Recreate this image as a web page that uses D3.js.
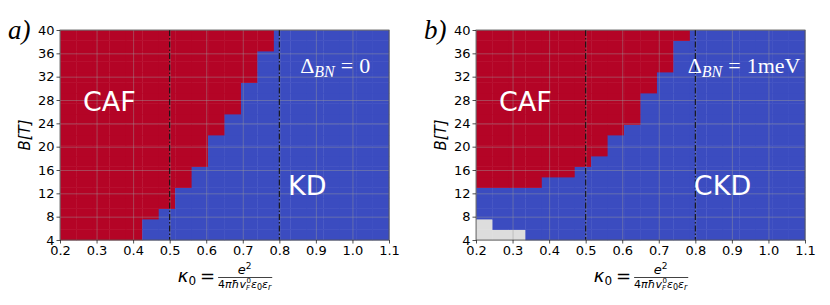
<!DOCTYPE html>
<html>
<head>
<meta charset="utf-8">
<style>
body { margin: 0; background: #fff; }
text { font-family: "DejaVu Sans", sans-serif; }
</style>
</head>
<body>
<svg id="chart" width="830" height="305"></svg>
<script src="https://d3js.org/d3.v7.min.js"></script>
<script>
// grid edges of the phase map
var kappaEdges = [0.2, 0.245, 0.29, 0.335, 0.38, 0.425, 0.47, 0.515, 0.56, 0.605, 0.65,
                  0.695, 0.74, 0.785, 0.83, 0.875, 0.92, 0.965, 1.01, 1.055, 1.1];
var bEdges = [4, 5.8, 7.6, 9.4, 11.2, 13, 14.8, 16.6, 18.4, 20.2, 22,
              23.8, 25.6, 27.4, 29.2, 31, 32.8, 34.6, 36.4, 38.2, 40];

// per kappa column: field B above which the CAF phase wins
var cafFromA = [4, 4, 4, 4, 4, 7.6, 9.4, 13, 16.6, 22, 25.6, 31, 36.4, 40, 40, 40, 40, 40, 40, 40];
var cafFromB = [13, 13, 13, 13, 14.8, 14.8, 16.6, 18.4, 22, 23.8, 29.2, 32.8, 38.2, 40, 40, 40, 40, 40, 40, 40];
// panel b: unresolved (grey) cells below this field
var greyBelowB = [7.6, 5.8, 5.8, 4, 4, 4, 4, 4, 4, 4, 4, 4, 4, 4, 4, 4, 4, 4, 4, 4];
var greyBelowA = cafFromA.map(function() { return 4; });

var xTicks = [0.2, 0.3, 0.4, 0.5, 0.6, 0.7, 0.8, 0.9, 1.0, 1.1];
var yTicks = [4, 8, 12, 16, 20, 24, 28, 32, 36, 40];
var dashLines = [0.5, 0.8];

var color = d3.scaleOrdinal()
  .domain(["KD", "grey", "CAF"])
  .range(["#3b4cc0", "#dddddd", "#b40426"]);

var svg = d3.select("#chart");

var panels = [
  { left: 60, tag: "a)", caf: cafFromA, grey: greyBelowA, delta: "0", deltaX: 0.857, low: "KD", lowX: 0.824 },
  { left: 476, tag: "b)", caf: cafFromB, grey: greyBelowB, delta: "1meV", deltaX: 0.779, low: "CKD", lowX: 0.796 }
];

var plotW = 329, plotTop = 30, plotH = 210;

function buildCells(p) {
  var cells = [];
  for (var i = 0; i < kappaEdges.length - 1; i++) {
    for (var k = 0; k < bEdges.length - 1; k++) {
      var phase = "KD";
      if (bEdges[k] >= p.caf[i]) phase = "CAF";
      else if (bEdges[k + 1] <= p.grey[i]) phase = "grey";
      cells.push({ k0: kappaEdges[i], k1: kappaEdges[i + 1], b0: bEdges[k], b1: bEdges[k + 1], phase: phase });
    }
  }
  return cells;
}

// lay out a run of text pieces left to right, returns total width
function mathRun(g, x, y, pieces) {
  var cx = x;
  pieces.forEach(function(pc) {
    var t = g.append("text")
      .attr("x", cx + (pc.dx || 0))
      .attr("y", y + (pc.dy || 0))
      .attr("font-size", pc.size)
      .style("font-style", pc.italic ? "italic" : "normal")
      .text(pc.t);
    if (pc.family) t.style("font-family", pc.family);
    if (pc.fill) t.attr("fill", pc.fill);
    if (!pc.noAdvance) cx += t.node().getComputedTextLength() + (pc.gap || 0);
  });
  return cx - x;
}

panels.forEach(function(p) {
  var x = d3.scaleLinear().domain([0.2, 1.1]).range([0, plotW]);
  var y = d3.scaleLinear().domain([4, 40]).range([plotH, 0]);

  var g = svg.append("g").attr("transform", "translate(" + p.left + "," + plotTop + ")");

  g.selectAll("rect.cell")
    .data(buildCells(p)).enter()
    .append("rect")
    .attr("class", "cell")
    .attr("x", function(d) { return x(d.k0); })
    .attr("y", function(d) { return y(d.b1); })
    .attr("width", function(d) { return x(d.k1) - x(d.k0) + 0.4; })
    .attr("height", function(d) { return y(d.b0) - y(d.b1) + 0.4; })
    .attr("fill", function(d) { return color(d.phase); });

  // grid lines
  g.append("g")
    .call(d3.axisBottom(x).tickValues(xTicks).tickSize(plotH).tickFormat(""))
    .call(function(s) { s.select(".domain").remove(); })
    .selectAll("line").attr("stroke", "#9a9a9a").attr("stroke-opacity", 0.55).attr("stroke-width", 0.8);
  g.append("g")
    .call(d3.axisLeft(y).tickValues(yTicks).tickSize(-plotW).tickFormat(""))
    .call(function(s) { s.select(".domain").remove(); })
    .selectAll("line").attr("stroke", "#9a9a9a").attr("stroke-opacity", 0.55).attr("stroke-width", 0.8);

  // dash-dot reference lines
  g.selectAll("line.ref")
    .data(dashLines).enter()
    .append("line")
    .attr("class", "ref")
    .attr("x1", function(d) { return x(d); })
    .attr("x2", function(d) { return x(d); })
    .attr("y1", 0).attr("y2", plotH)
    .attr("stroke", "#111").attr("stroke-width", 1.1)
    .attr("stroke-dasharray", "6,2,1.5,2");

  // frame
  g.append("rect")
    .attr("width", plotW).attr("height", plotH)
    .attr("fill", "none").attr("stroke", "#555").attr("stroke-width", 0.8);

  // axes
  var xa = g.append("g")
    .attr("transform", "translate(0," + plotH + ")")
    .call(d3.axisBottom(x).tickValues(xTicks).tickSize(3.5).tickPadding(2).tickFormat(d3.format(".1f")));
  var ya = g.append("g")
    .call(d3.axisLeft(y).tickValues(yTicks).tickSize(3.5).tickPadding(2));
  [xa, ya].forEach(function(a) {
    a.attr("font-size", 13).attr("font-family", "DejaVu Sans");
    a.select(".domain").remove();
    a.selectAll("text").attr("fill", "#000");
    a.selectAll("line").attr("stroke", "#222").attr("stroke-width", 0.8);
  });

  // panel tag
  g.append("text")
    .attr("x", -52).attr("y", 9)
    .style("font-family", "Liberation Serif, serif")
    .style("font-style", "italic")
    .attr("font-size", 27)
    .text(p.tag);

  // y label
  g.append("text")
    .attr("transform", "translate(-30," + plotH / 2 + ") rotate(-90)")
    .attr("text-anchor", "middle")
    .attr("font-size", 15)
    .style("font-style", "italic")
    .text("B[T]");

  // phase labels
  g.append("text")
    .attr("x", x(0.263)).attr("y", y(26.1))
    .attr("fill", "#fff")
    .attr("font-size", 27)
    .text("CAF");
  g.append("text")
    .attr("x", x(p.lowX)).attr("y", y(11.7))
    .attr("fill", "#fff")
    .attr("font-size", 27)
    .text(p.low);

  // gap label
  var serif = "Liberation Serif, serif";
  mathRun(g, x(p.deltaX), y(32.6), [
    { t: "\u0394", size: 22, family: serif, fill: "#fff" },
    { t: "BN", size: 16, italic: true, family: serif, fill: "#fff", dy: 4, gap: 6 },
    { t: "=", size: 22, family: serif, fill: "#fff", gap: 6 },
    { t: p.delta, size: 22, family: serif, fill: "#fff" }
  ]);

  // x label: kappa_0 = e^2 / (4 pi hbar v_F^0 eps_0 eps_r)
  var lab = g.append("g");
  var by = plotH + 42;
  var w1 = mathRun(lab, 0, by, [
    { t: "\u03ba", size: 18, italic: true },
    { t: "0", size: 12, dy: 3, gap: 4 },
    { t: "=", size: 18, gap: 3 }
  ]);
  var denom = lab.append("g");
  var dw = mathRun(denom, w1, by + 6, [
    { t: "4", size: 11 },
    { t: "\u03c0\u0127", size: 11, italic: true },
    { t: "v", size: 11, italic: true },
    { t: "0", size: 7, dy: -5, dx: 0.5, noAdvance: true },
    { t: "F", size: 7, italic: true, dy: 2, gap: 1 },
    { t: "\u03b5", size: 11, italic: true },
    { t: "0", size: 8, dy: 2 },
    { t: "\u03b5", size: 11, italic: true },
    { t: "r", size: 8, italic: true, dy: 2 }
  ]);
  lab.append("line")
    .attr("x1", w1).attr("x2", w1 + dw + 1)
    .attr("y1", by - 4.5).attr("y2", by - 4.5)
    .attr("stroke", "#111").attr("stroke-width", 0.8);
  var num = lab.append("g");
  var nw = mathRun(num, 0, by - 8, [
    { t: "e", size: 13, italic: true },
    { t: "2", size: 9, dy: -5 }
  ]);
  num.attr("transform", "translate(" + (w1 + (dw - nw) / 2) + ",0)");
  var total = w1 + dw;
  lab.attr("transform", "translate(" + (plotW / 2 - total / 2) + ",0)");
});
</script>
</body>
</html>
